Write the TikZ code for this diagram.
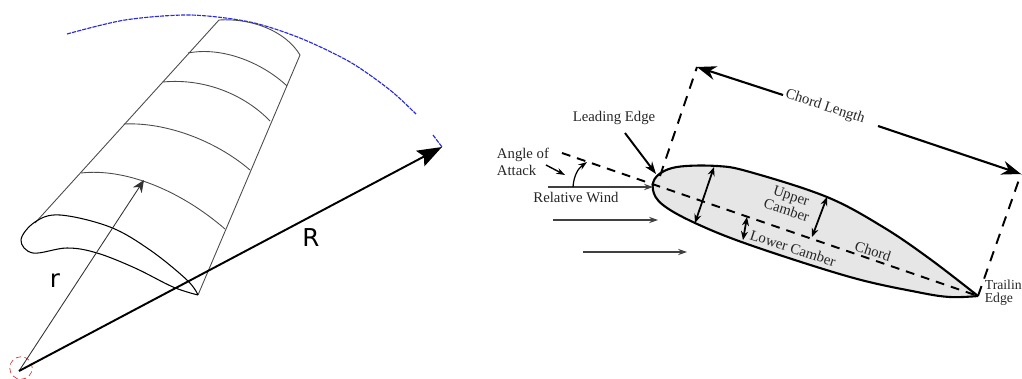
\documentclass[tikz,border=0pt]{standalone}
\usepackage{fontspec}
\setmainfont{Liberation Serif}
\newfontfamily\labelsans{DejaVu Sans}
\usetikzlibrary{arrows.meta}
\definecolor{bladeline}{HTML}{4a4a4a}
\definecolor{sweepblue}{HTML}{2a2ae0}
\definecolor{hubred}{HTML}{d84040}
\definecolor{foilfill}{HTML}{e6e6e6}

\begin{document}
\begin{tikzpicture}[
    x=0.02cm, y=-0.02cm,
    blade/.style={draw=bladeline, line width=0.5pt},
    sweep/.style={draw=sweepblue, line width=0.65pt, dash pattern=on 2.4pt off 0.6pt},
    hubring/.style={draw=hubred, line width=0.4pt, densely dashed},
    spanarrow/.style={-{Stealth[length=7pt,width=6pt]}, black!80, line width=0.5pt},
    bigarrow/.style={-{Stealth[length=14pt,width=10pt,inset=2.5pt]}, line width=1.1pt},
    foil/.style={draw=black, fill=foilfill, line width=1.2pt},
    dashline/.style={line width=1.1pt, dash pattern=on 5pt off 4pt},
    dimdash/.style={line width=1.1pt, dash pattern=on 6pt off 4.5pt},
    thinarrow/.style={-{Stealth[length=5pt,width=3.5pt]}, black!75, line width=0.7pt},
    boldarrow/.style={-{Stealth[length=7pt,width=5pt]}, line width=1.1pt},
    dimarrow/.style={-{Stealth[length=11pt,width=8pt]}, line width=1.2pt},
    camber/.style={{Stealth[length=5pt,width=4pt]}-{Stealth[length=5pt,width=4pt]}, line width=1pt},
    serifl/.style={font=\fontsize{8.4}{6.7}\selectfont, inner sep=0pt, black!85, align=center},
    sansl/.style={font=\labelsans\fontsize{14}{16}\selectfont, inner sep=0pt}
]
    \clip (0,0) rectangle (1022,379);

    % left: blade
    \draw[sweep] plot[smooth] coordinates {(67,34) (125,20) (190,15) (250,22) (300,38) (350,62) (390,90) (416,114)};
    \draw[sweep] (433,135) -- (442,147);
    \draw[blade] (35,223) -- (219,20);
    \draw[blade] (219,20) .. controls (250,18) and (285,30) .. (300,55);
    \draw[blade] (300,55) -- (198,295);
    \draw[blade] (188,53) .. controls (225,46) and (265,65) .. (287,86);
    \draw[blade] (163,82) .. controls (205,78) and (245,95) .. (270,121);
    \draw[blade] (124,124) .. controls (165,122) and (215,140) .. (250,170);
    \draw[blade] (81,173) .. controls (125,168) and (180,190) .. (225,229);
    \draw[blade, black, line width=0.6pt] plot[smooth, tension=0.6] coordinates {(198,295) (187,280) (150,250) (110,227) (60,215) (35,222) (21,240) (33,253) (67,248) (97,253) (135,268) (173,287) (198,295)};

    \coordinate (hubc) at (19,371);
    \coordinate (rtip) at (144,180);
    \coordinate (Rtip) at (442,147);
    \node[hubring, circle, minimum size=0.45cm, inner sep=0pt] (hubcircle) at (21,368) {};
    \draw[spanarrow] (hubc) -- (rtip);
    \draw[bigarrow] (hubc) -- (Rtip);
    \node[sansl] (rlabel) at (55,281) {r};
    \node[sansl] (Rlabel) at (311,238) {R};

    % right: airfoil
    \draw[foil] plot[smooth, tension=0.6] coordinates {(978,296) (930,259) (883,227) (827,197) (750,172) (717,166) (677,167) (657,176) (653,190) (663,205) (695,223) (750,245) (850,277) (917,292) (950,297) (978,296)};

    \coordinate (aoastart) at (562,153);
    \coordinate (te) at (978,296);
    \coordinate (chordtop) at (697,67);
    \coordinate (chordend) at (1021,174);
    \coordinate (lefoot) at (660,176);
    \coordinate (dimleft) at (783,95);
    \coordinate (dimright) at (878,126);
    \draw[dashline] (aoastart) -- (te);
    \draw[dimdash] (lefoot) -- (chordtop);
    \draw[dimdash] (te) -- (chordend);

    \node[serifl, rotate=-18.2] (chordlen) at (825,107) {Chord Length};
    \draw[dimarrow] (dimleft) -- (chordtop);
    \draw[dimarrow] (dimright) -- (chordend);

    \coordinate (wind1a) at (548,187);
    \coordinate (wind1b) at (653,187);
    \coordinate (wind2a) at (553,220);
    \coordinate (wind2b) at (658,220);
    \coordinate (wind3a) at (583,252);
    \coordinate (wind3b) at (687,252);
    \draw[thinarrow] (wind1a) -- (wind1b);
    \draw[thinarrow] (wind2a) -- (wind2b);
    \draw[thinarrow] (wind3a) -- (wind3b);

    \node[serifl] (leading) at (614,118) {Leading Edge};
    \coordinate (lefrom) at (625,133);
    \coordinate (letip) at (656,174);
    \draw[boldarrow] (lefrom) -- (letip);
    \node[serifl, align=left] (aoa) at (523,162) {Angle of\\[0.8pt]Attack};
    \coordinate (aoafrom) at (546,165);
    \coordinate (aoato) at (565,175);
    \draw[thinarrow, black, line width=0.8pt] (aoafrom) -- (aoato);
    \coordinate (arcfoot) at (573,187);
    \coordinate (arctip) at (587,162);
    \draw[thinarrow, black] (arcfoot) to[bend left=25] (arctip);
    \node[serifl] (relwind) at (576,197) {Relative Wind};

    \coordinate (upa) at (714,167);
    \coordinate (upb) at (695,223);
    \coordinate (uca) at (827,197);
    \coordinate (ucb) at (812,237);
    \coordinate (lca) at (747,217);
    \coordinate (lcb) at (743,240);
    \draw[camber] (upa) -- (upb);
    \draw[camber] (uca) -- (ucb);
    \draw[camber] (lca) -- (lcb);

    \node[serifl, rotate=-18] (upper) at (789,203) {Upper\\Camber};
    \node[serifl, rotate=-18] (lower) at (793,248) {Lower Camber};
    \node[serifl, rotate=-18] (chord) at (873,251) {Chord};
    \node[serifl, align=left, anchor=west, font=\fontsize{7.8}{6.7}\selectfont] (trailing) at (984.5,293) {Trailin\\[0.8pt]Edge};
\end{tikzpicture}
\end{document}
